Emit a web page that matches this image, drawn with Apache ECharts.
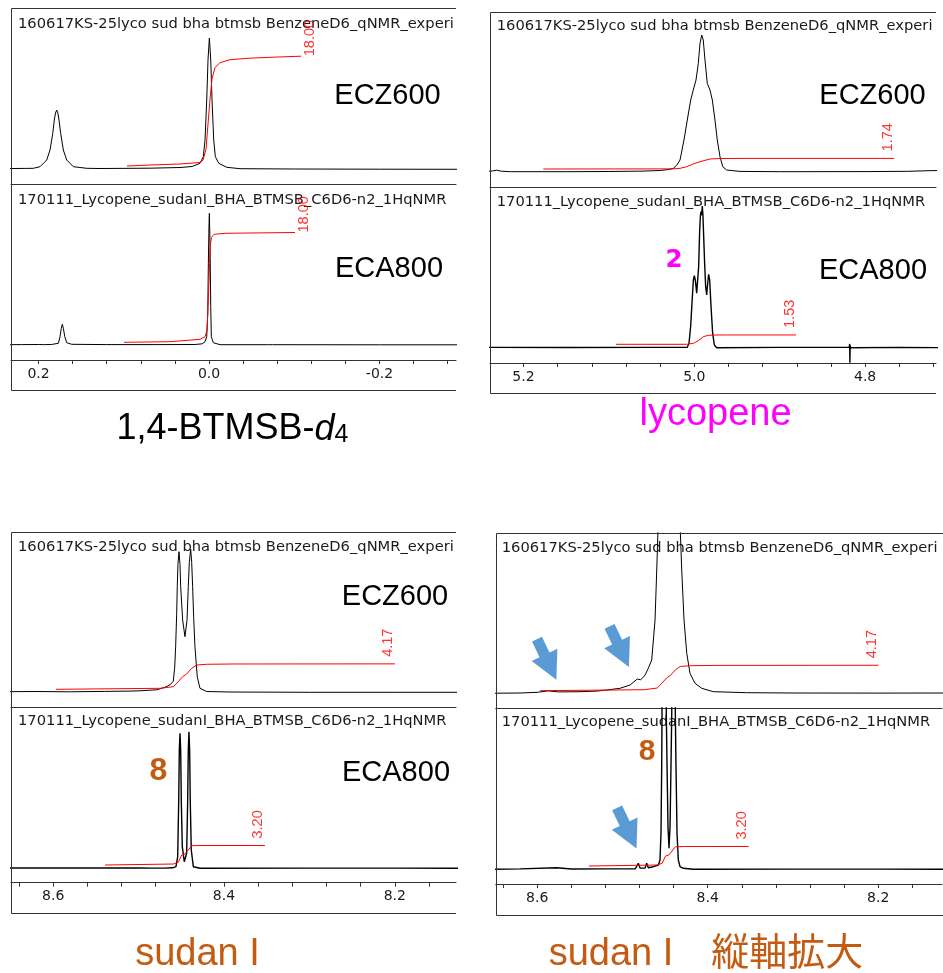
<!DOCTYPE html>
<html>
<head>
<meta charset="utf-8">
<script src="https://cdn.jsdelivr.net/npm/echarts@6/dist/echarts.min.js"></script>
<style>
  html, body { margin: 0; padding: 0; background: #fff; }
  #chart { width: 943px; height: 973px; }
</style>
</head>
<body>
<div id="chart"></div>
<script>
// 1H qNMR spectra in C6D6: [chemical shift (ppm), intensity] and integral traces.

// axis labels (ppm)
const btmsbTicks = [0.2, 0.0, -0.2];
const lycoTicks = [5.2, 5.0, 4.8];
const sudanTicks = [8.6, 8.4, 8.2];

// data file names shown above each trace
const fileECZ600 = '160617KS-25lyco sud bha btmsb BenzeneD6_qNMR_experi';
const fileECA800 = '170111_Lycopene_sudanI_BHA_BTMSB_C6D6-n2_1HqNMR';

// 1,4-BTMSB-d4 region
const btmsbECZ600 = [
  [0.245, 0.4], [0.230, 0.5], [0.215, 0.6], [0.2061, 0.7], [0.1982, 2.3], [0.1904, 9], [0.1865, 19],
  [0.1833, 35.7], [0.1815, 49], [0.1801, 56], [0.1787, 59], [0.1773, 56], [0.1760, 49], [0.1740, 35.7],
  [0.1709, 19], [0.1669, 9], [0.1592, 2.3], [0.1435, 0.7], [0.1279, 0.5], [0.0692, 0.8], [0.0340, 1.5],
  [0.0199, 2.5], [0.0106, 5.7], [0.0067, 12.3], [0.0047, 29], [0.0027, 69], [0.0012, 109], [-0.0004, 131],
  [-0.0020, 109], [-0.0035, 69], [-0.0055, 29], [-0.0074, 12.3], [-0.0114, 5.7], [-0.0208, 1.7],
  [-0.0364, 0.3], [-0.1000, 0], [-0.2000, -0.2], [-0.3000, -0.3]
];
const btmsbECA800 = [
  [0.245, 0.3], [0.220, 0.4], [0.200, 0.5], [0.1942, 0.4], [0.1935, 1.3], [0.1928, 0.4], [0.185, 0.5],
  [0.1768, 1.7], [0.1748, 8.3], [0.1733, 16.7], [0.1721, 20.7], [0.1709, 16.7], [0.1692, 8.3], [0.1669, 2.3],
  [0.1611, 0.7], [0.120, 0.4], [0.060, 0.4], [0.0165, 0.5], [0.0156, 1.8], [0.0148, 0.6], [0.0080, 1.2],
  [0.0047, 3.3], [0.0027, 8.3], [0.0015, 31.7], [0.0008, 81.7], [0.0000, 121.7], [-0.0004, 131.7],
  [-0.0012, 98.3], [-0.0020, 38.3], [-0.0027, 8.3], [-0.0050, 2.3], [-0.0129, 0.3], [-0.0700, 0.3],
  [-0.0745, 0.3], [-0.0751, 1.1], [-0.0757, 0.3], [-0.200, 0.2], [-0.300, 0.2]
];
const btmsbIntECZ600 = [
  [0.0962, 0], [0.0692, 0.16], [0.0340, 0.33], [0.0106, 0.58], [0.0070, 0.99], [0.0035, 2.80],
  [0.0012, 6.91], [-0.0012, 11.02], [-0.0035, 14.31], [-0.0070, 16.12], [-0.0129, 16.94],
  [-0.0246, 17.43], [-0.0481, 17.68], [-0.0774, 17.85], [-0.1080, 18.00]
];
const btmsbIntECA800 = [
  [0.0997, 0], [0.0457, 0.10], [0.0106, 0.49], [0.0047, 0.92], [0.0023, 2.02], [0.0012, 5.79],
  [0.0000, 10.21], [-0.0012, 15.62], [-0.0029, 17.21], [-0.0059, 17.70], [-0.0188, 17.87], [-0.1009, 18.00]
];

// lycopene region
const lycoECZ600 = [
  [5.245, 0.3], [5.236, 0.8], [5.2314, 1.5], [5.226, 0.5], [5.215, 0], [5.150, 0], [5.100, 0.2],
  [5.060, 0.6], [5.040, 1.2], [5.030, 2.2], [5.0246, 3.4], [5.0205, 6.5], [5.0167, 11.7], [5.0121, 31.7],
  [5.0082, 51.7], [5.0042, 71.7], [5.0012, 81.7], [4.9980, 91.7], [4.9953, 108.4], [4.9933, 128.4],
  [4.9913, 136.7], [4.9895, 131.7], [4.9875, 111.7], [4.9848, 88.4], [4.9816, 81.7], [4.9789, 71.7],
  [4.9758, 51.7], [4.9731, 31.7], [4.9699, 15], [4.9667, 5], [4.9621, 1.7], [4.9465, 0.3], [4.900, 0],
  [4.800, 0.1], [4.750, 0.4], [4.725, 1.0], [4.710, 1.2]
];
const lycoECA800 = [
  [5.245, 0.3], [5.150, 0.2], [5.050, 0.3], [5.0082, 0.4], [5.0062, 4.4], [5.0043, 21], [5.0027, 44.4],
  [5.0011, 67.7], [5.0000, 72], [4.9988, 67.7], [4.9972, 54.4], [4.9961, 52.7], [4.9949, 81],
  [4.9937, 117.7], [4.9929, 131], [4.9922, 136], [4.9914, 132.7], [4.9906, 141.7], [4.9898, 131],
  [4.9890, 111], [4.9879, 84.4], [4.9867, 61], [4.9855, 52.7], [4.9843, 64.4], [4.9832, 73.4],
  [4.9820, 67.7], [4.9804, 41], [4.9785, 14.4], [4.9765, 2.7], [4.9738, 0], [4.900, 0.3], [4.8185, 0.4],
  [4.8181, 3.8], [4.8178, -15], [4.8175, 2.4], [4.8171, 0], [4.760, 0.3], [4.705, 0]
];
const lycoIntECZ600 = [
  [5.1768, 0], [5.0246, 0.02], [5.0167, 0.11], [5.0089, 0.38], [5.0012, 0.82], [4.9933, 1.20],
  [4.9816, 1.64], [4.9699, 1.72], [4.9386, 1.74], [4.7660, 1.74]
];
const lycoIntECA800 = [
  [5.0917, 0], [5.0089, 0], [5.0011, 0.16], [4.9953, 0.59], [4.9894, 1.25], [4.9836, 1.47],
  [4.9777, 1.52], [4.9621, 1.53], [4.8809, 1.53]
];

// sudan I region
const sudanECZ600 = [
  [8.660, 0.6], [8.620, 0.8], [8.580, 0.5], [8.540, 0.9], [8.510, 1.2], [8.4984, 1.5], [8.4788, 2.5],
  [8.4691, 5], [8.4632, 7.5], [8.4594, 11], [8.4577, 25], [8.4566, 45.6], [8.4554, 78], [8.4547, 105.6],
  [8.4539, 128], [8.4527, 140.6], [8.4515, 128], [8.4507, 105.6], [8.4484, 72.3], [8.4457, 55.6],
  [8.4433, 72], [8.4418, 105.6], [8.4406, 130], [8.4390, 143], [8.4378, 130], [8.4367, 105.6],
  [8.4355, 75], [8.4340, 45.6], [8.4313, 15.6], [8.4281, 4], [8.4203, 0.8], [8.3930, 0.3], [8.300, 0],
  [8.200, 0], [8.120, 0]
];
const sudanECA800 = [
  [8.660, 0.3], [8.600, 0.3], [8.540, 0.4], [8.500, 0.3], [8.4845, 0.2], [8.4828, 1.6], [8.4811, 0.2],
  [8.4730, 0.2], [8.4711, 1.6], [8.4692, 0.2], [8.4600, 0.5], [8.4562, 1.6], [8.4542, 11.6],
  [8.4530, 68.3], [8.4523, 118.3], [8.4515, 135], [8.4507, 118.3], [8.4500, 68.3], [8.4488, 21.6],
  [8.4465, 6.6], [8.4437, 15], [8.4425, 68.3], [8.4418, 118.3], [8.4410, 136.6], [8.4402, 118.3],
  [8.4395, 68.3], [8.4383, 18.3], [8.4359, 1.6], [8.4281, 0], [8.300, 0.2], [8.200, 0.2], [8.120, 0]
];
// same spectra with the intensity scale expanded
const sudanECZ600Expanded = [
  [8.660, 0], [8.620, 0.3], [8.600, 1.0], [8.5870, 2.4], [8.575, 1.4], [8.5498, 1.6], [8.530, 2.2],
  [8.5185, 3.3], [8.5029, 5], [8.4911, 8.3], [8.4865, 11.6], [8.4845, 12.8], [8.4826, 14.2],
  [8.4806, 13.2], [8.4786, 13.6], [8.4760, 15.8], [8.4735, 18.3], [8.4697, 25], [8.4657, 33.3],
  [8.4618, 73.3], [8.4598, 123.3], [8.4579, 175], [8.4560, 300], [8.4530, 1100], [8.4466, 430],
  [8.4395, 1130], [8.4345, 300], [8.4325, 170], [8.4305, 123.3], [8.4278, 73.3], [8.4246, 40],
  [8.4208, 20], [8.4149, 10], [8.4070, 5], [8.3934, 1.6], [8.3543, 0.6], [8.300, 0.3], [8.200, 0.2],
  [8.120, 0.3]
];
const sudanECA800Expanded = [
  [8.660, 0], [8.620, 0.4], [8.5771, 1.6], [8.560, 0.3], [8.520, 0.4], [8.4850, 0.5], [8.4833, 1],
  [8.4814, 6], [8.4794, 1.2], [8.4735, 1.2], [8.4716, 6], [8.4697, 1.6], [8.4638, 2.6], [8.4579, 4.3],
  [8.4560, 9.3], [8.4548, 36], [8.4540, 102.6], [8.4536, 156], [8.4524, 950], [8.4486, 156],
  [8.4477, 102.6], [8.4466, 42.6], [8.4454, 21], [8.4442, 42.6], [8.4431, 102.6], [8.4422, 156],
  [8.4401, 960], [8.4380, 156], [8.4372, 102.6], [8.4360, 36], [8.4345, 9.3], [8.4325, 2.6],
  [8.4286, 1], [8.4169, 0], [8.300, 0.2], [8.200, 0.2], [8.120, 0]
];
const sudanIntECZ600 = [
  [8.5967, 0], [8.4749, 0.16], [8.4594, 0.43], [8.4535, 1.25], [8.4484, 2.07], [8.4437, 2.51],
  [8.4378, 3.44], [8.4320, 3.98], [8.4203, 4.10], [8.3891, 4.15], [8.1998, 4.17]
];
const sudanIntECA800 = [
  [8.5393, 0], [8.4594, 0.16], [8.4535, 0.44], [8.4495, 1.64], [8.4457, 1.80], [8.4418, 2.46],
  [8.4378, 3.16], [8.4281, 3.19], [8.3520, 3.20]
];

// minor signals pointed out in the expanded view
const arrowsECZ600 = [[8.5889, 33.8], [8.5038, 46.6]];
const arrowsECA800 = [[8.4949, 41.1]];

// ---------------------------------------------------------------------------
const FRAME = '#333';
const LATIN = '"Liberation Sans", Arial, sans-serif';
const WIDE = '"DejaVu Sans", sans-serif';
const PX_PER_UNIT = 6.1;      // integral trace height per integral unit
const TICK_STEP = 0.04;       // ppm between tick marks

const layout = [
  { left: 11, width: 445, xLeft: 0.2323, xRight: -0.2897, ticks: btmsbTicks, frameBottom: 390, frameRight: 456, titleX: 18,
    rows: [
      { top: 8, bottom: 184, base: 169, intBase: 3.0, spec: btmsbECZ600, integ: btmsbIntECZ600, side: 'right',
        file: fileECZ600, titleY: 24, tag: 'ECZ600', tagX: 387.5, tagY: 96 },
      { top: 184, bottom: 360, base: 345, intBase: 2.7, spec: btmsbECA800, integ: btmsbIntECA800, side: 'right',
        file: fileECA800, titleY: 200, tag: 'ECA800', tagX: 389, tagY: 269 } ] },
  { left: 490, width: 446, xLeft: 5.2392, xRight: 4.7170, ticks: lycoTicks, frameBottom: 393, frameRight: 936, titleX: 496.7,
    rows: [
      { top: 12, bottom: 187, base: 171.7, intBase: 2.7, spec: lycoECZ600, integ: lycoIntECZ600, side: 'left',
        file: fileECZ600, titleY: 25.7, tag: 'ECZ600', tagX: 872.5, tagY: 96.3 },
      { top: 187, bottom: 363, base: 347.7, intBase: 3.4, spec: lycoECA800, integ: lycoIntECA800, side: 'left',
        file: fileECA800, titleY: 201.7, tag: 'ECA800', tagX: 873, tagY: 271 } ] },
  { left: 11, width: 445, xLeft: 8.6494, xRight: 8.1283, ticks: sudanTicks, frameBottom: 913.3, frameRight: 456, titleX: 18,
    rows: [
      { top: 532.3, bottom: 707.3, base: 692.3, intBase: 3.0, spec: sudanECZ600, integ: sudanIntECZ600, side: 'left',
        file: fileECZ600, titleY: 546.7, tag: 'ECZ600', tagX: 395, tagY: 597 },
      { top: 707.3, bottom: 882.7, base: 868.3, intBase: 3.3, spec: sudanECA800, integ: sudanIntECA800, side: 'left',
        file: fileECA800, titleY: 721, tag: 'ECA800', tagX: 396, tagY: 772.5 } ] },
  { left: 495.7, width: 446.3, xLeft: 8.6487, xRight: 8.1252, ticks: sudanTicks, frameBottom: 915, frameRight: 943, titleX: 501.7,
    rows: [
      { top: 532.7, bottom: 708, base: 693.3, intBase: 2.6, spec: sudanECZ600Expanded, integ: sudanIntECZ600, side: 'left',
        file: fileECZ600, titleY: 547.7, arrows: arrowsECZ600 },
      { top: 708, bottom: 884, base: 869.3, intBase: 3.3, spec: sudanECA800Expanded, integ: sudanIntECA800, side: 'left',
        file: fileECA800, titleY: 722.3, arrows: arrowsECA800 } ] }
];

// tick marks every TICK_STEP ppm inside the window
function tickMarks(lo, hi, step) {
  const out = [];
  for (let k = Math.ceil(lo / step - 1e-9); k * step <= hi + 1e-9; k++) out.push(+(k * step).toFixed(4));
  return out;
}

// block arrow pointing along +x
const ARROW = 'path://M0,8.75L17.5,8.75L17.5,0L45,14.25L17.5,28.5L17.5,19.75L0,19.75Z';

const grids = [], xAxes = [], yAxes = [], series = [], graphics = [];

layout.forEach((p) => {
  const marks = tickMarks(p.xRight, p.xLeft, TICK_STEP);
  const top0 = p.rows[0].top;
  const crisp = (v) => Math.round(v) + 0.5;
  graphics.push({
    type: 'polyline', silent: true, z: 10,
    shape: { points: [[p.frameRight, crisp(top0)], [crisp(p.left), crisp(top0)], [crisp(p.left), crisp(p.frameBottom)], [p.frameRight, crisp(p.frameBottom)]] },
    style: { stroke: FRAME, lineWidth: 1, fill: 'none' }
  });

  p.rows.forEach((r, ri) => {
    const g = grids.length;
    const withScale = ri === 1;
    grids.push({ left: p.left, top: r.top, width: p.width, height: r.bottom - r.top,
      containLabel: false, outerBoundsMode: 'none', show: false });
    xAxes.push({
      type: 'value', gridIndex: g, min: p.xRight, max: p.xLeft, inverse: true, position: 'bottom',
      axisLine: { show: true, onZero: false, lineStyle: { color: FRAME, width: 1 } },
      axisTick: withScale ? { show: true, customValues: marks, length: 4, inside: false, lineStyle: { color: FRAME, width: 1 } } : { show: false },
      minorTick: { show: false },
      splitLine: { show: false },
      axisLabel: withScale ? {
        show: true, customValues: p.ticks, margin: 7, color: '#1a1a1a', fontSize: 14, fontFamily: WIDE,
        formatter: (v) => Number(v).toFixed(1)
      } : { show: false }
    });
    const below = r.bottom - r.base, above = r.base - r.top;
    yAxes.push({ type: 'value', gridIndex: g, min: -below, max: above, show: false, splitLine: { show: false } });
    yAxes.push({ type: 'value', gridIndex: g, min: (-below - r.intBase) / PX_PER_UNIT, max: (above - r.intBase) / PX_PER_UNIT,
      show: false, splitLine: { show: false } });

    const noisy = withScale && p.ticks !== btmsbTicks;
    series.push({
      type: 'line', xAxisIndex: g, yAxisIndex: 2 * g, data: r.spec, showSymbol: false, clip: true, silent: true,
      lineStyle: { color: '#000', width: noisy ? 1.4 : 1 }, z: 2
    });
    series.push({
      type: 'line', xAxisIndex: g, yAxisIndex: 2 * g + 1, data: r.integ, showSymbol: false, clip: true, silent: true,
      lineStyle: { color: '#ff0000', width: 1 }, z: 3
    });
    series.push({
      type: 'scatter', xAxisIndex: g, yAxisIndex: 2 * g + 1, data: [r.integ[r.integ.length - 1]],
      symbolSize: 0, itemStyle: { color: 'transparent' }, silent: true, clip: false, z: 4,
      label: {
        show: true, formatter: (d) => d.value[1].toFixed(2), rotate: 90,
        position: r.side === 'right' ? [1, 0] : [1, -7], align: 'left',
        verticalAlign: r.side === 'right' ? 'top' : 'bottom',
        color: '#ff0000', fontSize: 14.5, fontFamily: LATIN
      }
    });
    if (r.arrows) {
      series.push({
        type: 'scatter', xAxisIndex: g, yAxisIndex: 2 * g, data: r.arrows, symbol: ARROW,
        symbolSize: [45, 28.5], symbolRotate: -64.5, itemStyle: { color: '#5B9BD5', opacity: 1 },
        silent: true, clip: false, z: 6
      });
    }

    graphics.push({
      type: 'text', x: p.titleX, y: r.titleY, silent: true, z: 1,
      style: { text: r.file, fill: '#1a1a1a', fontSize: 14.7, fontFamily: WIDE,
        align: 'left', verticalAlign: 'middle', textAlign: 'left', textVerticalAlign: 'middle' }
    });
    if (r.tag) {
      graphics.push({
        type: 'text', x: r.tagX, y: r.tagY, silent: true, z: 1,
        style: { text: r.tag, fill: '#000', fontSize: 29, fontFamily: LATIN,
          align: 'center', verticalAlign: 'middle', textAlign: 'center', textVerticalAlign: 'middle' }
      });
    }
  });
});

function label(text, x, y, opts) {
  return {
    type: 'text', x, y, silent: true, z: 12,
    style: Object.assign({ text, align: 'center', verticalAlign: 'middle', textAlign: 'center', textVerticalAlign: 'middle',
      fontFamily: LATIN }, opts)
  };
}

// compound numbers and captions
graphics.push(label('2', 674, 260.5, { fill: '#FF00FF', fontSize: 24.5, fontWeight: 'bold', fontFamily: '"DejaVu Sans", sans-serif' }));
graphics.push(label('8', 158.5, 771, { fill: '#C55A11', fontSize: 32, fontWeight: 'bold' }));
graphics.push(label('8', 647, 752, { fill: '#C55A11', fontSize: 30, fontWeight: 'bold' }));
graphics.push({
  type: 'text', x: 232.5, y: 429.5, silent: true, z: 12,
  style: {
    text: '{m|1,4-BTMSB-}{i|d}{s|4}', align: 'center', verticalAlign: 'middle', textAlign: 'center', textVerticalAlign: 'middle',
    fill: '#000', fontSize: 36, fontFamily: LATIN,
    rich: {
      m: { fontSize: 36, lineHeight: 36, fontFamily: LATIN, fill: '#000' },
      i: { fontSize: 36, lineHeight: 36, fontFamily: LATIN, fontStyle: 'italic', fill: '#000' },
      s: { fontSize: 25, lineHeight: 10, fontFamily: LATIN, verticalAlign: 'bottom', fill: '#000' }
    }
  }
});
graphics.push(label('lycopene', 715.5, 414.5, { fill: '#FF00FF', fontSize: 38 }));
graphics.push(label('sudan I', 197.5, 954.5, { fill: '#C55A11', fontSize: 38 }));
graphics.push(label('sudan I\u3000縦軸拡大', 706, 954.5, { fill: '#C55A11', fontSize: 38,
  fontFamily: '"Liberation Sans", Arial, "Noto Sans CJK JP", sans-serif' }));

const chart = echarts.init(document.getElementById('chart'), null, { renderer: 'canvas' });
chart.setOption({
  animation: false,
  backgroundColor: '#fff',
  grid: grids,
  xAxis: xAxes,
  yAxis: yAxes,
  series,
  graphic: graphics
});
</script>
</body>
</html>
